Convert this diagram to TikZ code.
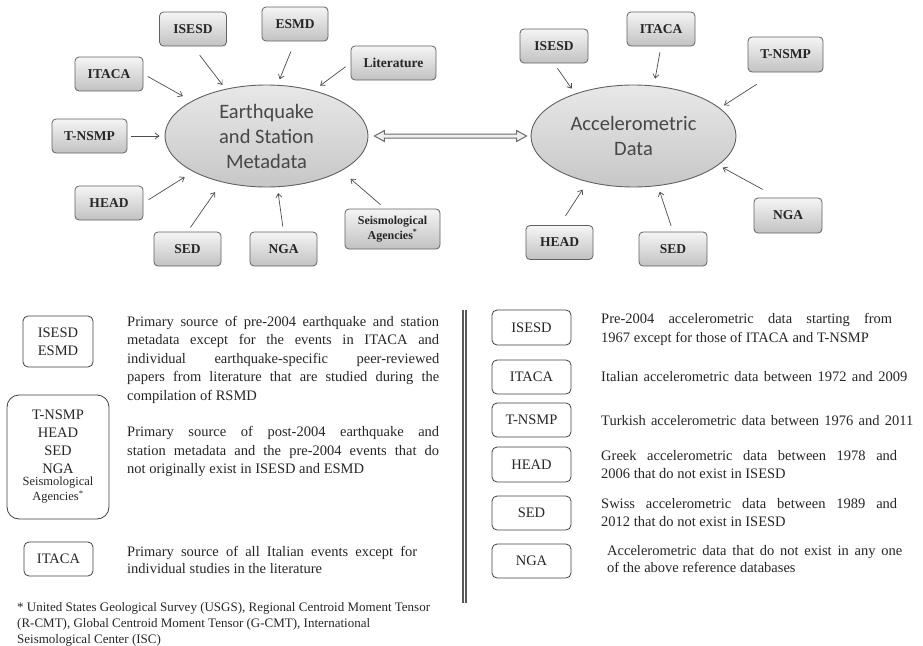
\documentclass[tikz,border=0pt]{standalone}
\usepackage{fontspec}
\setmainfont{Liberation Serif}
\newfontfamily\calib{Carlito}
\usetikzlibrary{arrows.meta,shapes.geometric,calc}
\newcommand\jline[1]{\hbox to \hsize{#1}}
\newcommand\lline[1]{\hbox{#1}}
\newcommand\para[2]{\vtop{\hsize=#1\relax\parindent=0pt #2}}
\tikzset{
 src/.style={draw=black!62, line width=0.8pt, rounded corners=4pt, top color=black!4, bottom color=black!24,
   minimum height=34pt, inner sep=0pt, font=\fontsize{13.5}{15}\selectfont\bfseries, text=black!85},
 hub/.style={ellipse, draw=black!62, line width=0.9pt, top color=black!9, bottom color=black!22,
   inner sep=0pt, font=\calib\fontsize{20.5}{25}\selectfont, text=black!72, align=center},
 arr/.style={-{Straight Barb[length=4pt,width=6pt]}, draw=black!70, line width=0.7pt},
 dblarrow/.style={draw=black!58, line width=1pt, fill=black!6, line join=miter},
 lg/.style={draw=black!75, line width=0.8pt, rounded corners=5pt, fill=white, inner sep=0pt,
   font=\fontsize{14.5}{18}\selectfont, text=black!85, align=center},
 desc/.style={anchor=base west, inner sep=0pt, font=\fontsize{14.5}{18.5}\selectfont, text=black!85},
 sepline/.style={draw=black!65, line width=1.2pt, double=white, double distance=1.8pt}
}
\begin{document}
\begin{tikzpicture}[x=1pt,y=-1pt]
\useasboundingbox (0,0) rectangle (923,645);
% hubs
\node[hub, minimum width=203pt, minimum height=102pt] (E) at (266.5,136) {Earthquake\\and Station\\Metadata};
\node[hub, minimum width=205pt, minimum height=102pt] (A) at (633.5,136) {Accelerometric\\Data};
% left sources
\node[src, minimum width=67pt] (lISESD) at (193,29) {ISESD};
\node[src, minimum width=66pt] (lESMD) at (295,24) {ESMD};
\node[src, minimum width=85pt] (lLit) at (393.5,63) {Literature};
\node[src, minimum width=68pt] (lITACA) at (109,74) {ITACA};
\node[src, minimum width=75pt] (lTNSMP) at (89.5,136) {T-NSMP};
\node[src, minimum width=68pt] (lHEAD) at (109,203) {HEAD};
\node[src, minimum width=67pt] (lSED) at (187.5,249) {SED};
\node[src, minimum width=67pt] (lNGA) at (283.5,249) {NGA};
\node[src, minimum width=95pt, minimum height=40pt, align=center, font=\fontsize{12}{14.5}\selectfont\bfseries] (lSeis) at (392.5,229) {Seismological\\Agencies\textsuperscript{*}};
% right sources
\node[src, minimum width=68pt] (rISESD) at (554,46) {ISESD};
\node[src, minimum width=68pt] (rITACA) at (661,29) {ITACA};
\node[src, minimum width=75pt, minimum height=35pt] (rTNSMP) at (785.5,54.5) {T-NSMP};
\node[src, minimum width=68pt, minimum height=35pt] (rNGA) at (788,215.5) {NGA};
\node[src, minimum width=67pt] (rHEAD) at (559.5,242.5) {HEAD};
\node[src, minimum width=68pt] (rSED) at (673,249) {SED};
% left arrows
\draw[arr, shorten <=11pt, shorten >=5pt] (lISESD.south) -- (E.131);
\draw[arr, shorten <=11pt, shorten >=6pt] (lESMD.south) -- (E.78);
\draw[arr, shorten <=6pt, shorten >=8pt] (lLit.west) -- (E.44);
\draw[arr, shorten <=5pt, shorten >=10pt] (lITACA.east) -- (E.155);
\draw[arr, shorten <=4pt, shorten >=5pt] (lTNSMP.east) -- (E.west);
\draw[arr, shorten <=6pt, shorten >=10pt] (lHEAD.east) -- (E.206);
\draw[arr, shorten <=5pt, shorten >=12pt] (lSED.north) -- (E.226);
\draw[arr, shorten <=5pt, shorten >=6pt] (lNGA.north) -- (E.282);
\draw[arr, shorten <=6pt, shorten >=12pt] (lSeis.110) -- (E.335);
% right arrows
\draw[arr, shorten <=6pt, shorten >=6pt] (rISESD.south) -- (A.144);
\draw[arr, shorten <=6pt, shorten >=7pt] (rITACA.south) -- (A.68);
\draw[arr, shorten <=22pt, shorten >=5pt] (rTNSMP.240) -- (A.18);
\draw[arr, shorten <=17pt, shorten >=5pt] (rNGA.120) -- (A.341);
\draw[arr, shorten <=11pt, shorten >=9pt] (rHEAD.north) -- (A.225);
\draw[arr, shorten <=6pt, shorten >=6pt] (rSED.north) -- (A.296);
% double (hollow) arrow between the hubs
\coordinate (dp) at ($(E.east)+(6,0)$);
\coordinate (dq) at ($(A.west)+(-4,0)$);
\draw[dblarrow] (dp) -- ++(10,-5.5) -- ++(0,3.5) -- ($(dq)+(-10,-2)$) -- ++(0,-3.5) -- (dq)
   -- ++(-10,5.5) -- ++(0,-3.5) -- ($(dp)+(10,2)$) -- ++(0,3.5) -- cycle;
% separator
\coordinate (sepT) at (464.5,310);
\coordinate (sepB) at (464.5,603);
\draw[sepline] (sepT) -- (sepB);
% left legend
\node[lg, minimum width=70pt, minimum height=51pt] (gA) at (58,341.5) {ISESD\\ESMD};
\node[lg, rounded corners=12pt, minimum width=102pt, minimum height=124pt, text width=100pt] (gB) at (58,457)
  {T-NSMP\\HEAD\\SED\\NGA\\[-2pt]{\fontsize{12.5}{14}\selectfont Seismological\\[-3pt]Agencies\textsuperscript{*}}};
\node[lg, minimum width=69pt, minimum height=34pt] (gC) at (58.5,559) {ITACA};
\node[desc] (dA) at (127,326) {\para{312pt}{%
\jline{Primary source of pre-2004 earthquake and station}%
\jline{metadata except for the events in ITACA and}%
\jline{individual earthquake-specific peer-reviewed}%
\jline{papers from literature that are studied during the}%
\lline{compilation of RSMD}}};
\node[desc] (dB) at (127,436.5) {\para{312pt}{%
\jline{Primary source of post-2004 earthquake and}%
\jline{station metadata and the pre-2004 events that do}%
\lline{not originally exist in ISESD and ESMD}}};
\node[desc, font=\fontsize{14.5}{17}\selectfont] (dC) at (127,556) {\para{290pt}{%
\jline{Primary source of all Italian events except for}%
\lline{individual studies in the literature}}};
\node[desc, font=\fontsize{13}{16}\selectfont] (fn) at (17,611) {\para{420pt}{%
\lline{* United States Geological Survey (USGS), Regional Centroid Moment Tensor}%
\lline{(R-CMT), Global Centroid Moment Tensor (G-CMT), International}%
\lline{Seismological Center (ISC)}}};
% right legend
\node[lg, minimum width=79pt, minimum height=35pt] (hA) at (531.5,327.5) {ISESD};
\node[lg, minimum width=79pt, minimum height=34pt] (hB) at (531.5,377) {ITACA};
\node[lg, minimum width=79pt, minimum height=34pt] (hC) at (531.5,420) {T-NSMP};
\node[lg, minimum width=79pt, minimum height=35pt] (hD) at (531.5,464.5) {HEAD};
\node[lg, minimum width=79pt, minimum height=34pt] (hE) at (531.5,513) {SED};
\node[lg, minimum width=79pt, minimum height=34pt] (hF) at (531.5,561) {NGA};
\node[desc] (eA) at (601,323.5) {\para{291pt}{%
\jline{Pre-2004 accelerometric data starting from}%
\lline{1967 except for those of ITACA and T-NSMP}}};
\node[desc] (eB) at (601,381.5) {\para{306pt}{\jline{Italian accelerometric data between 1972 and 2009}}};
\node[desc] (eC) at (601,425.5) {\para{312pt}{\jline{Turkish accelerometric data between 1976 and 2011}}};
\node[desc, font=\fontsize{14.5}{17.5}\selectfont] (eD) at (601,460.5) {\para{296pt}{%
\jline{Greek accelerometric data between 1978 and}%
\lline{2006 that do not exist in ISESD}}};
\node[desc, font=\fontsize{14.5}{17.5}\selectfont] (eE) at (601,508.5) {\para{296pt}{%
\jline{Swiss accelerometric data between 1989 and}%
\lline{2012 that do not exist in ISESD}}};
\node[desc, font=\fontsize{14.5}{16.5}\selectfont] (eF) at (607,555.5) {\para{295pt}{%
\jline{Accelerometric data that do not exist in any one}%
\lline{of the above reference databases}}};
\end{tikzpicture}
\end{document}
